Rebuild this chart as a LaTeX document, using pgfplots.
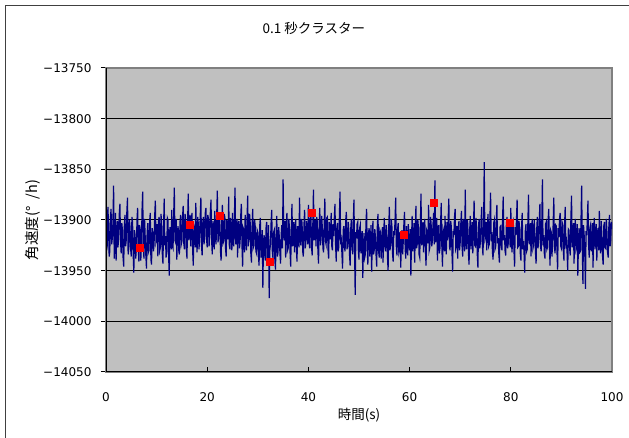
\documentclass[border=0pt]{standalone}
\usepackage{fontspec}
\setmainfont{Noto Sans CJK JP}
\newfontfamily\tickfont{DejaVu Sans}
\usepackage{pgfplots}
\usepackage{pgfplotstable}
\pgfplotsset{compat=1.18}
\definecolor{plotbg}{RGB}{192,192,192}
\definecolor{navyline}{RGB}{0,0,128}
\definecolor{framegray}{RGB}{128,128,128}

\pgfplotstableread[row sep=\\]{
x y\\
0 -13898\\ 0.125 -13930\\ 0.25 -13925\\ 0.375 -13887\\ 0.5 -13905\\ 0.625 -13936\\ 0.75 -13931\\ 0.875 -13899\\ 1 -13889\\ 1.125 -13924\\
1.25 -13918\\ 1.375 -13902\\ 1.5 -13866\\ 1.625 -13938\\ 1.75 -13922\\ 1.875 -13893\\ 2 -13940\\ 2.125 -13912\\ 2.25 -13901\\ 2.375 -13927\\
2.5 -13915\\ 2.625 -13894\\ 2.75 -13884\\ 2.875 -13921\\ 3 -13933\\ 3.125 -13903\\ 3.25 -13910\\ 3.375 -13937\\ 3.5 -13946\\ 3.625 -13906\\
3.75 -13895\\ 3.875 -13926\\ 4 -13920\\ 4.125 -13891\\ 4.25 -13878\\ 4.375 -13934\\ 4.5 -13928\\ 4.625 -13900\\ 4.75 -13907\\ 4.875 -13929\\
5 -13936\\ 5.125 -13897\\ 5.25 -13902\\ 5.375 -13934\\ 5.5 -13952\\ 5.625 -13910\\ 5.75 -13915\\ 5.875 -13938\\ 6 -13929\\ 6.125 -13900\\
6.25 -13888\\ 6.375 -13927\\ 6.5 -13941\\ 6.625 -13905\\ 6.75 -13909\\ 6.875 -13940\\ 7 -13925\\ 7.125 -13890\\ 7.25 -13872\\ 7.375 -13926\\
7.5 -13938\\ 7.625 -13899\\ 7.75 -13917\\ 7.875 -13935\\ 8 -13948\\ 8.125 -13914\\ 8.25 -13903\\ 8.375 -13932\\ 8.5 -13930\\ 8.625 -13901\\
8.75 -13893\\ 8.875 -13939\\ 9 -13944\\ 9.125 -13908\\ 9.25 -13912\\ 9.375 -13931\\ 9.5 -13924\\ 9.625 -13896\\ 9.75 -13881\\ 9.875 -13922\\
10 -13919\\ 10.125 -13904\\ 10.25 -13936\\ 10.375 -13901\\ 10.5 -13897\\ 10.625 -13930\\ 10.75 -13927\\ 10.875 -13894\\ 11 -13905\\ 11.125 -13933\\
11.25 -13943\\ 11.375 -13908\\ 11.5 -13879\\ 11.625 -13925\\ 11.75 -13916\\ 11.875 -13937\\ 12 -13931\\ 12.125 -13898\\ 12.25 -13900\\ 12.375 -13935\\
12.5 -13955\\ 12.625 -13907\\ 12.75 -13911\\ 12.875 -13929\\ 13 -13890\\ 13.125 -13926\\ 13.25 -13928\\ 13.375 -13896\\ 13.5 -13868\\ 13.625 -13920\\
13.75 -13922\\ 13.875 -13899\\ 14 -13939\\ 14.125 -13911\\ 14.25 -13906\\ 14.375 -13930\\ 14.5 -13934\\ 14.625 -13902\\ 14.75 -13895\\ 14.875 -13924\\
15 -13921\\ 15.125 -13898\\ 15.25 -13886\\ 15.375 -13923\\ 15.5 -13929\\ 15.625 -13894\\ 15.75 -13900\\ 15.875 -13928\\ 16 -13938\\ 16.125 -13903\\
16.25 -13874\\ 16.375 -13920\\ 16.5 -13913\\ 16.625 -13895\\ 16.75 -13926\\ 16.875 -13899\\ 17 -13893\\ 17.125 -13930\\ 17.25 -13945\\ 17.375 -13906\\
17.5 -13909\\ 17.625 -13927\\ 17.75 -13883\\ 17.875 -13918\\ 18 -13932\\ 18.125 -13897\\ 18.25 -13904\\ 18.375 -13929\\ 18.5 -13919\\ 18.625 -13896\\
18.75 -13878\\ 18.875 -13925\\ 19 -13935\\ 19.125 -13903\\ 19.25 -13897\\ 19.375 -13924\\ 19.5 -13916\\ 19.625 -13893\\ 19.75 -13888\\ 19.875 -13919\\
20 -13927\\ 20.125 -13895\\ 20.25 -13899\\ 20.375 -13926\\ 20.5 -13913\\ 20.625 -13892\\ 20.75 -13880\\ 20.875 -13920\\ 21 -13934\\ 21.125 -13901\\
21.25 -13906\\ 21.375 -13929\\ 21.5 -13891\\ 21.625 -13917\\ 21.75 -13924\\ 21.875 -13896\\ 22 -13871\\ 22.125 -13922\\ 22.25 -13918\\ 22.375 -13897\\
22.5 -13902\\ 22.625 -13931\\ 22.75 -13940\\ 22.875 -13903\\ 23 -13885\\ 23.125 -13923\\ 23.25 -13921\\ 23.375 -13894\\ 23.5 -13898\\ 23.625 -13928\\
23.75 -13936\\ 23.875 -13900\\ 24 -13908\\ 24.125 -13919\\ 24.25 -13877\\ 24.375 -13925\\ 24.5 -13929\\ 24.625 -13898\\ 24.75 -13912\\ 24.875 -13930\\
25 -13893\\ 25.125 -13921\\ 25.25 -13926\\ 25.375 -13897\\ 25.5 -13868\\ 25.625 -13924\\ 25.75 -13915\\ 25.875 -13899\\ 26 -13937\\ 26.125 -13905\\
26.25 -13901\\ 26.375 -13928\\ 26.5 -13922\\ 26.625 -13896\\ 26.75 -13884\\ 26.875 -13925\\ 27 -13946\\ 27.125 -13908\\ 27.25 -13910\\ 27.375 -13932\\
27.5 -13895\\ 27.625 -13921\\ 27.75 -13930\\ 27.875 -13899\\ 28 -13876\\ 28.125 -13926\\ 28.25 -13919\\ 28.375 -13894\\ 28.5 -13903\\ 28.625 -13933\\
28.75 -13942\\ 28.875 -13905\\ 29 -13889\\ 29.125 -13927\\ 29.25 -13925\\ 29.375 -13900\\ 29.5 -13907\\ 29.625 -13931\\ 29.75 -13933\\ 29.875 -13910\\
30 -13912\\ 30.125 -13934\\ 30.25 -13945\\ 30.375 -13906\\ 30.5 -13898\\ 30.625 -13937\\ 30.75 -13931\\ 30.875 -13910\\ 31 -13967\\ 31.125 -13921\\
31.25 -13915\\ 31.375 -13935\\ 31.5 -13940\\ 31.625 -13908\\ 31.75 -13902\\ 31.875 -13939\\ 32 -13929\\ 32.125 -13905\\ 32.25 -13977\\ 32.375 -13930\\
32.5 -13924\\ 32.625 -13903\\ 32.75 -13890\\ 32.875 -13931\\ 33 -13938\\ 33.125 -13912\\ 33.25 -13910\\ 33.375 -13940\\ 33.5 -13949\\ 33.625 -13911\\
33.75 -13896\\ 33.875 -13936\\ 34 -13932\\ 34.125 -13907\\ 34.25 -13917\\ 34.375 -13933\\ 34.5 -13943\\ 34.625 -13914\\ 34.75 -13905\\ 34.875 -13928\\
35 -13860\\ 35.125 -13915\\ 35.25 -13920\\ 35.375 -13901\\ 35.5 -13937\\ 35.625 -13908\\ 35.75 -13893\\ 35.875 -13930\\ 36 -13928\\ 36.125 -13899\\
36.25 -13907\\ 36.375 -13932\\ 36.5 -13946\\ 36.625 -13910\\ 36.75 -13884\\ 36.875 -13926\\ 37 -13919\\ 37.125 -13902\\ 37.25 -13932\\ 37.375 -13911\\
37.5 -13899\\ 37.625 -13929\\ 37.75 -13941\\ 37.875 -13906\\ 38 -13912\\ 38.125 -13927\\ 38.25 -13878\\ 38.375 -13917\\ 38.5 -13925\\ 38.625 -13899\\
38.75 -13903\\ 38.875 -13931\\ 39 -13936\\ 39.125 -13905\\ 39.25 -13890\\ 39.375 -13928\\ 39.5 -13922\\ 39.625 -13901\\ 39.75 -13909\\ 39.875 -13924\\
40 -13885\\ 40.125 -13918\\ 40.25 -13928\\ 40.375 -13899\\ 40.5 -13896\\ 40.625 -13927\\ 40.75 -13935\\ 40.875 -13904\\ 41 -13870\\ 41.125 -13920\\
41.25 -13914\\ 41.375 -13900\\ 41.5 -13926\\ 41.625 -13897\\ 41.75 -13901\\ 41.875 -13930\\ 42 -13943\\ 42.125 -13906\\ 42.25 -13888\\ 42.375 -13925\\
42.5 -13919\\ 42.625 -13896\\ 42.75 -13907\\ 42.875 -13928\\ 43 -13932\\ 43.125 -13903\\ 43.25 -13879\\ 43.375 -13921\\ 43.5 -13924\\ 43.625 -13898\\
43.75 -13897\\ 43.875 -13929\\ 44 -13938\\ 44.125 -13902\\ 44.25 -13910\\ 44.375 -13919\\ 44.5 -13893\\ 44.625 -13926\\ 44.75 -13930\\ 44.875 -13904\\
45 -13916\\ 45.125 -13898\\ 45.25 -13884\\ 45.375 -13925\\ 45.5 -13941\\ 45.625 -13907\\ 45.75 -13903\\ 45.875 -13931\\ 46 -13927\\ 46.125 -13896\\
46.25 -13872\\ 46.375 -13924\\ 46.5 -13920\\ 46.625 -13933\\ 46.75 -13948\\ 46.875 -13910\\ 47 -13906\\ 47.125 -13927\\ 47.25 -13931\\ 47.375 -13900\\
47.5 -13892\\ 47.625 -13929\\ 47.75 -13925\\ 47.875 -13902\\ 48 -13911\\ 48.125 -13934\\ 48.25 -13945\\ 48.375 -13908\\ 48.5 -13899\\ 48.625 -13926\\
48.75 -13934\\ 48.875 -13903\\ 49 -13880\\ 49.125 -13930\\ 49.25 -13974\\ 49.375 -13912\\ 49.5 -13918\\ 49.625 -13904\\ 49.75 -13902\\ 49.875 -13931\\
50 -13939\\ 50.125 -13908\\ 50.25 -13905\\ 50.375 -13933\\ 50.5 -13927\\ 50.625 -13911\\ 50.75 -13957\\ 50.875 -13929\\ 51 -13913\\ 51.125 -13937\\
51.25 -13934\\ 51.375 -13904\\ 51.5 -13889\\ 51.625 -13928\\ 51.75 -13944\\ 51.875 -13913\\ 52 -13908\\ 52.125 -13936\\ 52.25 -13926\\ 52.375 -13905\\
52.5 -13951\\ 52.625 -13922\\ 52.75 -13901\\ 52.875 -13934\\ 53 -13930\\ 53.125 -13909\\ 53.25 -13917\\ 53.375 -13935\\ 53.5 -13946\\ 53.625 -13906\\
53.75 -13894\\ 53.875 -13931\\ 54 -13937\\ 54.125 -13910\\ 54.25 -13912\\ 54.375 -13938\\ 54.5 -13923\\ 54.625 -13907\\ 54.75 -13942\\ 54.875 -13915\\
55 -13898\\ 55.125 -13927\\ 55.25 -13931\\ 55.375 -13905\\ 55.5 -13912\\ 55.625 -13936\\ 55.75 -13950\\ 55.875 -13908\\ 56 -13887\\ 56.125 -13930\\
56.25 -13924\\ 56.375 -13899\\ 56.5 -13906\\ 56.625 -13933\\ 56.75 -13941\\ 56.875 -13911\\ 57 -13915\\ 57.125 -13900\\ 57.25 -13878\\ 57.375 -13926\\
57.5 -13935\\ 57.625 -13909\\ 57.75 -13903\\ 57.875 -13932\\ 58 -13929\\ 58.125 -13912\\ 58.25 -13947\\ 58.375 -13920\\ 58.5 -13910\\ 58.625 -13934\\
58.75 -13921\\ 58.875 -13903\\ 59 -13892\\ 59.125 -13929\\ 59.25 -13938\\ 59.375 -13906\\ 59.5 -13918\\ 59.625 -13935\\ 59.75 -13904\\ 59.875 -13925\\
60 -13930\\ 60.125 -13909\\ 60.25 -13955\\ 60.375 -13920\\ 60.5 -13896\\ 60.625 -13931\\ 60.75 -13919\\ 60.875 -13903\\ 61 -13942\\ 61.125 -13911\\
61.25 -13886\\ 61.375 -13928\\ 61.5 -13924\\ 61.625 -13900\\ 61.75 -13908\\ 61.875 -13934\\ 62 -13937\\ 62.125 -13906\\ 62.25 -13874\\ 62.375 -13925\\
62.5 -13916\\ 62.625 -13902\\ 62.75 -13932\\ 62.875 -13908\\ 63 -13899\\ 63.125 -13929\\ 63.25 -13945\\ 63.375 -13910\\ 63.5 -13912\\ 63.625 -13923\\
63.75 -13885\\ 63.875 -13930\\ 64 -13927\\ 64.125 -13897\\ 64.25 -13903\\ 64.375 -13926\\ 64.5 -13921\\ 64.625 -13904\\ 64.75 -13893\\ 64.875 -13924\\
65 -13861\\ 65.125 -13922\\ 65.25 -13918\\ 65.375 -13898\\ 65.5 -13940\\ 65.625 -13911\\ 65.75 -13905\\ 65.875 -13933\\ 66 -13928\\ 66.125 -13904\\
66.25 -13883\\ 66.375 -13927\\ 66.5 -13946\\ 66.625 -13909\\ 66.75 -13912\\ 66.875 -13931\\ 67 -13896\\ 67.125 -13924\\ 67.25 -13934\\ 67.375 -13902\\
67.5 -13920\\ 67.625 -13899\\ 67.75 -13879\\ 67.875 -13926\\ 68 -13930\\ 68.125 -13901\\ 68.25 -13907\\ 68.375 -13932\\ 68.5 -13951\\ 68.625 -13911\\
68.75 -13915\\ 68.875 -13897\\ 69 -13889\\ 69.125 -13928\\ 69.25 -13925\\ 69.375 -13906\\ 69.5 -13938\\ 69.625 -13909\\ 69.75 -13901\\ 69.875 -13930\\
70 -13922\\ 70.125 -13903\\ 70.25 -13891\\ 70.375 -13927\\ 70.5 -13936\\ 70.625 -13899\\ 70.75 -13910\\ 70.875 -13931\\ 71 -13870\\ 71.125 -13918\\
71.25 -13929\\ 71.375 -13900\\ 71.5 -13904\\ 71.625 -13932\\ 71.75 -13944\\ 71.875 -13910\\ 72 -13896\\ 72.125 -13929\\ 72.25 -13918\\ 72.375 -13902\\
72.5 -13933\\ 72.625 -13906\\ 72.75 -13881\\ 72.875 -13925\\ 73 -13926\\ 73.125 -13898\\ 73.25 -13912\\ 73.375 -13934\\ 73.5 -13947\\ 73.625 -13905\\
73.75 -13899\\ 73.875 -13928\\ 74 -13921\\ 74.125 -13901\\ 74.25 -13887\\ 74.375 -13924\\ 74.5 -13935\\ 74.625 -13907\\ 74.75 -13843\\ 74.875 -13919\\
75 -13916\\ 75.125 -13902\\ 75.25 -13930\\ 75.375 -13905\\ 75.5 -13894\\ 75.625 -13926\\ 75.75 -13924\\ 75.875 -13898\\ 76 -13873\\ 76.125 -13921\\
76.25 -13912\\ 76.375 -13932\\ 76.5 -13939\\ 76.625 -13903\\ 76.75 -13900\\ 76.875 -13929\\ 77 -13927\\ 77.125 -13901\\ 77.25 -13885\\ 77.375 -13923\\
77.5 -13918\\ 77.625 -13933\\ 77.75 -13942\\ 77.875 -13907\\ 78 -13906\\ 78.125 -13925\\ 78.25 -13930\\ 78.375 -13899\\ 78.5 -13877\\ 78.625 -13920\\
78.75 -13915\\ 78.875 -13931\\ 79 -13935\\ 79.125 -13904\\ 79.25 -13897\\ 79.375 -13928\\ 79.5 -13923\\ 79.625 -13900\\ 79.75 -13908\\ 79.875 -13927\\
80 -13888\\ 80.125 -13921\\ 80.25 -13932\\ 80.375 -13905\\ 80.5 -13902\\ 80.625 -13930\\ 80.75 -13946\\ 80.875 -13907\\ 81 -13915\\ 81.125 -13899\\
81.25 -13880\\ 81.375 -13927\\ 81.5 -13926\\ 81.625 -13901\\ 81.75 -13909\\ 81.875 -13933\\ 82 -13940\\ 82.125 -13908\\ 82.25 -13893\\ 82.375 -13929\\
82.5 -13921\\ 82.625 -13934\\ 82.75 -13952\\ 82.875 -13910\\ 83 -13904\\ 83.125 -13931\\ 83.25 -13929\\ 83.375 -13902\\ 83.5 -13875\\ 83.625 -13924\\
83.75 -13917\\ 83.875 -13903\\ 84 -13936\\ 84.125 -13906\\ 84.25 -13899\\ 84.375 -13928\\ 84.5 -13925\\ 84.625 -13900\\ 84.75 -13911\\ 84.875 -13932\\
85 -13943\\ 85.125 -13909\\ 85.25 -13897\\ 85.375 -13928\\ 85.5 -13920\\ 85.625 -13901\\ 85.75 -13884\\ 85.875 -13926\\ 86 -13931\\ 86.125 -13903\\
86.25 -13860\\ 86.375 -13925\\ 86.5 -13915\\ 86.625 -13933\\ 86.75 -13938\\ 86.875 -13904\\ 87 -13902\\ 87.125 -13929\\ 87.25 -13927\\ 87.375 -13900\\
87.5 -13889\\ 87.625 -13922\\ 87.75 -13945\\ 87.875 -13910\\ 88 -13912\\ 88.125 -13936\\ 88.25 -13924\\ 88.375 -13903\\ 88.5 -13878\\ 88.625 -13927\\
88.75 -13933\\ 88.875 -13905\\ 89 -13906\\ 89.125 -13931\\ 89.25 -13949\\ 89.375 -13908\\ 89.5 -13917\\ 89.625 -13899\\ 89.75 -13893\\ 89.875 -13926\\
90 -13928\\ 90.125 -13902\\ 90.25 -13904\\ 90.375 -13930\\ 90.5 -13940\\ 90.625 -13906\\ 90.75 -13887\\ 90.875 -13924\\ 91 -13921\\ 91.125 -13933\\
91.25 -13950\\ 91.375 -13909\\ 91.5 -13910\\ 91.625 -13928\\ 91.75 -13935\\ 91.875 -13898\\ 92 -13876\\ 92.125 -13927\\ 92.25 -13918\\ 92.375 -13903\\
92.5 -13943\\ 92.625 -13911\\ 92.75 -13899\\ 92.875 -13929\\ 93 -13926\\ 93.125 -13904\\ 93.25 -13955\\ 93.375 -13920\\ 93.5 -13908\\ 93.625 -13932\\
93.75 -13931\\ 93.875 -13900\\ 94 -13866\\ 94.125 -13926\\ 94.25 -13963\\ 94.375 -13905\\ 94.5 -13915\\ 94.625 -13934\\ 94.75 -13968\\ 94.875 -13911\\
95 -13915\\ 95.125 -13900\\ 95.25 -13881\\ 95.375 -13925\\ 95.5 -13937\\ 95.625 -13908\\ 95.75 -13905\\ 95.875 -13931\\ 96 -13926\\ 96.125 -13903\\
96.25 -13947\\ 96.375 -13911\\ 96.5 -13898\\ 96.625 -13929\\ 96.75 -13922\\ 96.875 -13904\\ 97 -13940\\ 97.125 -13913\\ 97.25 -13908\\ 97.375 -13930\\
97.5 -13891\\ 97.625 -13924\\ 97.75 -13933\\ 97.875 -13901\\ 98 -13916\\ 98.125 -13935\\ 98.25 -13944\\ 98.375 -13906\\ 98.5 -13902\\ 98.625 -13927\\
98.75 -13928\\ 98.875 -13899\\ 99 -13912\\ 99.125 -13932\\ 99.25 -13937\\ 99.375 -13907\\ 99.5 -13895\\ 99.625 -13926\\ 99.75 -13920\\ 99.875 -13902\\
100 -13909\\
}\ratedata

\begin{document}
\begin{tikzpicture}
\useasboundingbox (0,0) rectangle (629pt,438pt);
\draw[line width=1pt, black!75] (5.5pt,0pt) -- (5.5pt,432.5pt) -- (629pt,432.5pt);
\begin{axis}[
  at={(106pt,66pt)}, anchor=south west,
  scale only axis, width=506pt, height=304pt,
  xmin=0, xmax=100, ymin=-14050, ymax=-13750,
  scaled ticks=false,
  axis background/.style={fill=plotbg},
  axis line style={framegray, line width=1.2pt},
  xtick={0,20,40,60,80,100},
  xticklabels={0,20,40,60,80,100},
  ytick={-14050,-14000,-13950,-13900,-13850,-13800,-13750},
  yticklabels={−14050,−14000,−13950,−13900,−13850,−13800,−13750},
  tick align=outside,
  major tick length=5pt,
  tick style={black, line width=1pt},
  xtick style={yshift=5pt},
  xtick pos=bottom, ytick pos=left,
  ymajorgrids,
  grid style={black, line width=1pt},
  xticklabel style={font=\tickfont\fontsize{12}{14}\selectfont, yshift=-12pt},
  yticklabel style={font=\tickfont\fontsize{12}{14}\selectfont, xshift=-6pt},
  title={0.1 秒クラスター},
  title style={at={(axis description cs:0.411,1)}, anchor=center, yshift=34pt, font=\fontsize{13.5}{15}\selectfont},
  xlabel={時間(s)},
  every axis x label/.style={at={(axis description cs:0.5,0)}, anchor=center, yshift=-43pt, font=\fontsize{13.5}{15}\selectfont},
  ylabel={角速度(°\hspace{7pt}/h)},
  every axis y label/.style={at={(axis description cs:-0.1443,0.5)}, anchor=center, rotate=90, font=\fontsize{14.5}{16}\selectfont},
]
\addplot[navyline, line width=1.2pt, mark=none] table[x=x, y=y]{\ratedata};
\addplot[only marks, mark=square*, mark size=3.5pt, color=red, mark options={fill=red, draw=red}] coordinates {
  (6.6,-13927) (16.5,-13905) (22.4,-13896) (32.3,-13941)
  (40.6,-13893) (58.8,-13915) (64.7,-13883) (79.7,-13903)
};
\draw[black, line width=1.2pt] (rel axis cs:0,1) -- (rel axis cs:0,0) -- (rel axis cs:1,0);
\end{axis}
\end{tikzpicture}
\end{document}
